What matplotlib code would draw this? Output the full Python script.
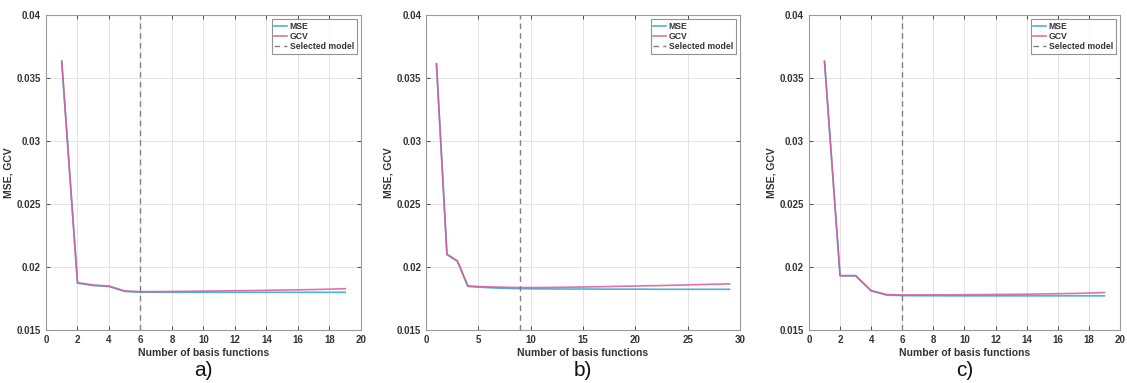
import matplotlib
matplotlib.use("Agg")
import matplotlib.pyplot as plt
from matplotlib.ticker import FuncFormatter, MultipleLocator

plt.rcParams['font.family'] = ['Liberation Sans', 'DejaVu Sans']

# ---- data ----
x_a = list(range(1, 20))
gcv_a = [0.03635, 0.01876, 0.01857, 0.01849, 0.01810, 0.01804, 0.01805, 0.01806, 0.01807,
         0.01809, 0.01810, 0.01812, 0.01813, 0.01815, 0.01817, 0.01819, 0.01821, 0.01824, 0.01828]
mse_a = [0.03630, 0.01872, 0.01853, 0.01845, 0.01806, 0.01800, 0.01800, 0.01799, 0.01799,
         0.01799, 0.01799, 0.01799, 0.01799, 0.01799, 0.01799, 0.01799, 0.01799, 0.01799, 0.01799]
sel_a = 6

x_b = list(range(1, 30))
gcv_b = [0.03613, 0.02102, 0.02049, 0.01850, 0.01845, 0.01842, 0.01840, 0.01838, 0.01837,
         0.01837, 0.01837, 0.01838, 0.01839, 0.01840, 0.01841, 0.01843, 0.01844, 0.01846,
         0.01847, 0.01849, 0.01851, 0.01852, 0.01854, 0.01856, 0.01858, 0.01860, 0.01862,
         0.01864, 0.01866]
mse_b = [0.03610, 0.02098, 0.02045, 0.01846, 0.01840, 0.01836, 0.01832, 0.01830, 0.01828,
         0.01827, 0.01826, 0.01826, 0.01825, 0.01825, 0.01825, 0.01825, 0.01824, 0.01824,
         0.01824, 0.01824, 0.01824, 0.01823, 0.01823, 0.01823, 0.01823, 0.01823, 0.01823,
         0.01823, 0.01823]
sel_b = 9

x_c = list(range(1, 20))
gcv_c = [0.03634, 0.01932, 0.01932, 0.01813, 0.01781, 0.01778, 0.01778, 0.01779, 0.01779,
         0.01780, 0.01781, 0.01782, 0.01783, 0.01784, 0.01786, 0.01788, 0.01790, 0.01793, 0.01797]
mse_c = [0.03630, 0.01929, 0.01929, 0.01810, 0.01777, 0.01773, 0.01772, 0.01772, 0.01771,
         0.01771, 0.01771, 0.01771, 0.01771, 0.01771, 0.01771, 0.01771, 0.01771, 0.01771, 0.01771]
sel_c = 6

panel_labels = ['a)', 'b)', 'c)']
xlims = [20, 30, 20]
xsteps = [2, 5, 2]

MSE_COLOR = '#4db3d6'
GCV_COLOR = '#d95a9c'

fig = plt.figure(figsize=(11.27, 3.83), dpi=100)
positions = [
    [0.0408, 0.1384, 0.2795, 0.8225],
    [0.3780, 0.1384, 0.2786, 0.8225],
    [0.7178, 0.1384, 0.2760, 0.8225],
]
datasets = [(x_a, mse_a, gcv_a, sel_a), (x_b, mse_b, gcv_b, sel_b), (x_c, mse_c, gcv_c, sel_c)]

fmt = FuncFormatter(lambda v, p: '%g' % round(v, 4))

for i, (pos, (x, mse, gcv, sel)) in enumerate(zip(positions, datasets)):
    ax = fig.add_axes(pos)
    ax.plot(x, mse, color=MSE_COLOR, lw=1.2, label='MSE')
    ax.plot(x, gcv, color=GCV_COLOR, lw=1.2, label='GCV', alpha=0.85)
    ax.axvline(sel, color='#808080', lw=1.0, ls=(0, (4, 3)), label='Selected model')
    ax.set_xlim(0, xlims[i])
    ax.set_ylim(0.015, 0.04)
    ax.xaxis.set_major_locator(MultipleLocator(xsteps[i]))
    ax.yaxis.set_major_locator(MultipleLocator(0.005))
    ax.yaxis.set_major_formatter(fmt)
    ax.grid(True, color='#e3e3e3', lw=0.7)
    ax.set_axisbelow(True)
    ax.tick_params(direction='in', top=True, right=True, length=3, labelsize=7,
                   colors='#333333', width=0.6)
    for lab in ax.get_xticklabels() + ax.get_yticklabels():
        lab.set_fontweight('bold')
    for s in ax.spines.values():
        s.set_color('#9a9a9a')
        s.set_linewidth(0.8)
    ax.set_xlabel('Number of basis functions', fontsize=7.5, fontweight='bold',
                  color='#333333', labelpad=2)
    ax.set_ylabel('MSE, GCV', fontsize=7.5, fontweight='bold', color='#333333', labelpad=2)
    leg = ax.legend(loc='upper right', fontsize=6.2, frameon=True, fancybox=False,
                    borderpad=0.3, labelspacing=0.15, handlelength=1.5, handletextpad=0.3,
                    borderaxespad=0.5)
    leg.get_frame().set_edgecolor('#777777')
    leg.get_frame().set_linewidth(0.8)
    for t in leg.get_texts():
        t.set_fontweight('bold')
        t.set_color('#333333')
    fig.text(pos[0] + pos[2] / 2, 0.032, panel_labels[i], ha='center', va='center',
             fontsize=15, color='#111111')

fig.savefig('out.png', dpi=100)
